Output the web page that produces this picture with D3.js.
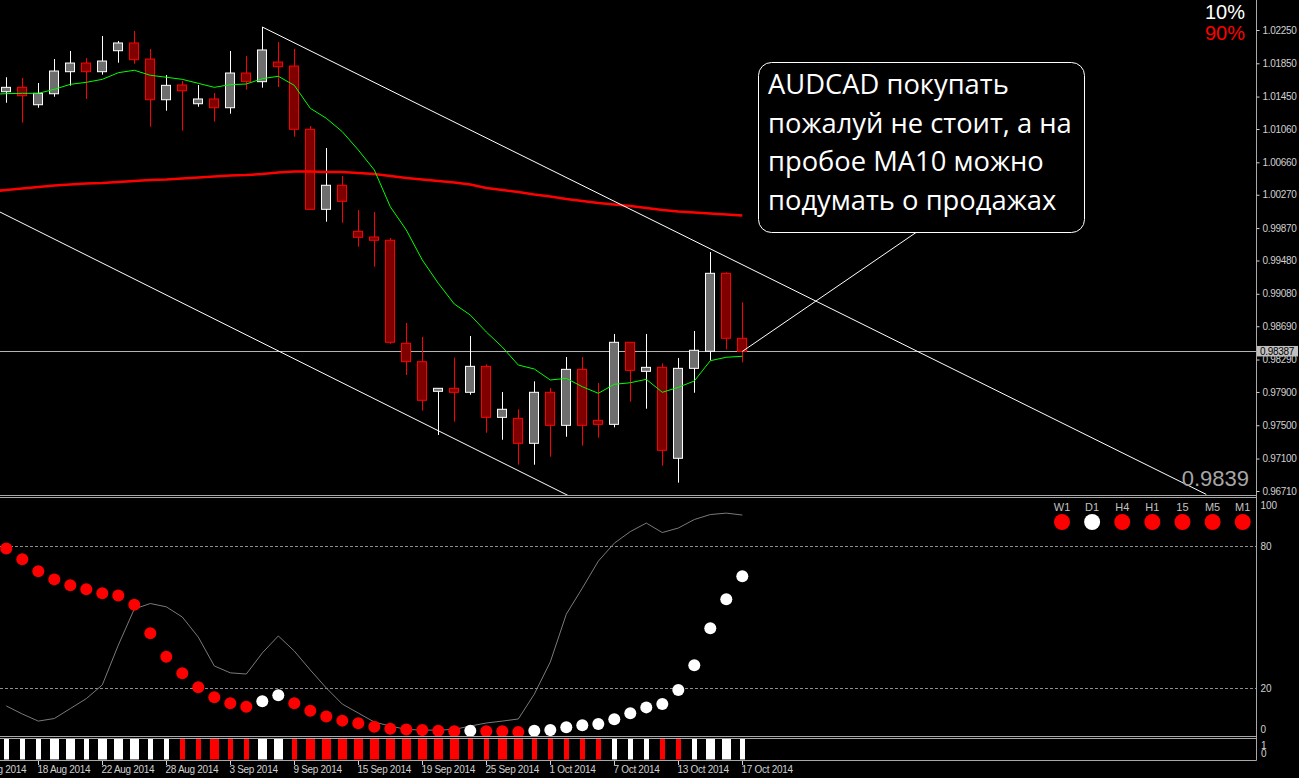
<!DOCTYPE html>
<html><head><meta charset="utf-8">
<script src="https://cdn.jsdelivr.net/npm/d3@7"></script>
<style>
html,body{margin:0;padding:0;background:#000;overflow:hidden;}
svg{display:block;}
text{font-family:"Liberation Sans",Arial,sans-serif;}
</style></head><body>
<svg id="chart" width="1299" height="778"></svg>
<script>
// ---------------- DATA ----------------
const symbol = "AUDCAD";
const opens  = [1.01508,1.01561,1.01352,1.01484,1.01749,1.01853,1.01749,1.02001,1.02094,1.01901,1.01412,1.01589,1.01364,1.01421,1.01316,1.01733,1.01629,1.01865,1.01817,1.01057,1.00095,1.00384,0.99831,0.99762,0.99723,0.98485,0.98264,0.97908,0.97944,0.97896,0.98208,0.97595,0.97583,0.97283,0.97896,0.97499,0.98172,0.97559,0.97511,0.98497,0.98148,0.98196,0.97103,0.98184,0.98389,0.99326,0.98545];
const highs  = [1.01682,1.01673,1.01613,1.01901,1.01998,1.01913,1.02178,1.02118,1.02238,1.02022,1.01709,1.01637,1.01589,1.01493,1.01998,1.01938,1.02286,1.02106,1.02022,1.01096,1.00832,1.00495,1.00087,1.00063,0.99750,0.98729,0.98561,0.97944,0.98312,0.98573,0.98232,0.97899,0.97692,0.98028,0.97948,0.98320,0.98320,0.98008,0.98597,0.98497,0.98597,0.98244,0.98308,0.98633,0.99582,0.99338,0.98978];
const lows   = [1.01376,1.01136,1.01316,1.01448,1.01581,1.01421,1.01713,1.01857,1.01845,1.01088,1.01280,1.01040,1.01328,1.01148,1.01244,1.01533,1.01557,1.01565,1.00968,1.00087,0.99946,0.99934,0.99646,0.99405,0.98480,0.98104,0.97675,0.97383,0.97543,0.97867,0.97410,0.97326,0.97026,0.97026,0.97122,0.97362,0.97254,0.97350,0.97475,0.97783,0.97699,0.97014,0.96810,0.97891,0.98281,0.98413,0.98256];
const closes = [1.01561,1.01460,1.01489,1.01757,1.01853,1.01749,1.01877,1.02094,1.01893,1.01412,1.01585,1.01520,1.01421,1.01316,1.01733,1.01629,1.02010,1.01809,1.01057,1.00095,1.00384,1.00191,0.99759,0.99723,0.98497,0.98264,0.97800,0.97944,0.97896,0.98208,0.97595,0.97692,0.97283,0.97896,0.97499,0.98172,0.97499,0.97511,0.98497,0.98160,0.98196,0.97199,0.98184,0.98401,0.99326,0.98545,0.98387];
// MA10 (green) and long MA (red); first value belongs to the bar just left of the view
const maFast = [1.01476,1.01485,1.01489,1.01489,1.01537,1.01597,1.01621,1.01657,1.01737,1.01766,1.01706,1.01682,1.01657,1.01609,1.01561,1.01593,1.01601,1.01665,1.01694,1.01585,1.01309,1.01189,1.01028,1.00808,1.00568,1.00126,0.99846,0.99486,0.99206,0.98957,0.98825,0.98621,0.98440,0.98224,0.98176,0.98044,0.98064,0.97963,0.97884,0.97992,0.98011,0.98052,0.97896,0.97956,0.98032,0.98276,0.98317,0.98329];
const maSlow = [1.00309,1.00327,1.00345,1.00363,1.00381,1.00393,1.00405,1.00411,1.00423,1.00435,1.00447,1.00453,1.00465,1.00477,1.00489,1.00501,1.00507,1.00519,1.00537,1.00549,1.00549,1.00543,1.00543,1.00531,1.00519,1.00495,1.00471,1.00453,1.00435,1.00417,1.00393,1.00351,1.00327,1.00303,1.00273,1.00249,1.00219,1.00195,1.00171,1.00153,1.00135,1.00111,1.00087,1.00069,1.00057,1.00045,1.00033,1.00021];
const maFirstBar = -1;
const lastPrice = 0.98387;
const priceTicks = [1.02250,1.01850,1.01450,1.01060,1.00660,1.00270,0.99870,0.99480,0.99080,0.98690,0.98290,0.97900,0.97500,0.97100,0.96710];
// trend lines: [bar index, price] anchors
const trendUpper = [[16,1.02286],[75,0.96669]];
const trendLower = [[-0.4,1.00063],[40,0.96187]];
const pointerLine = [[46,0.98387],[56.9,0.99822]];
// oscillator
const oscDots  = [79.0,74.4,69.3,65.9,63.4,61.7,60.0,59.1,55.2,43.1,33.2,26.2,20.3,16.1,13.5,12.1,14.4,16.9,13.5,10.4,7.9,6.2,5.1,3.6,2.8,2.5,2.2,1.9,1.7,1.9,1.7,1.7,1.4,1.9,2.2,3.4,4.2,4.8,6.8,9.3,11.8,13.2,19.1,29.6,45.2,57.5,67.2];
const oscDotDir = [-1,-1,-1,-1,-1,-1,-1,-1,-1,-1,-1,-1,-1,-1,-1,-1,1,1,-1,-1,-1,-1,-1,-1,-1,-1,-1,-1,-1,1,-1,-1,-1,1,1,1,1,1,1,1,1,1,1,1,1,1,1];
const oscLine  = [12.4,9.0,6.0,7.1,11.3,15.5,21.3,38.1,53.4,55.7,54.3,50.0,41.5,29.3,26.4,25.9,34.8,42.0,35.6,27.6,20.0,13.2,9.4,5.6,3.9,2.5,2.2,2.2,2.5,3.9,5.2,6.0,6.9,17.4,31.0,51.2,62.2,73.6,81.2,86.1,89.7,85.7,87.6,91.2,93.3,93.9,93.1];
const oscLevels = [80,20];
const oscTicks = [100,80,20,0];
// multi-timeframe signals
const tfLabels = ["W1","D1","H4","H1","15","M5","M1"];
const tfDir    = [-1,1,-1,-1,-1,-1,-1];
// bottom histogram: direction and strength
const histDir      = [1,1,1,1,1,1,1,1,1,1,1,-1,-1,-1,-1,-1,1,1,-1,-1,-1,-1,-1,-1,-1,-1,-1,-1,-1,-1,-1,-1,-1,-1,-1,-1,-1,-1,1,1,1,-1,-1,1,1,1,1];
const histStrength = [0,0,0,1,1,0,1,1,1,0,0,0,0,1,0,0,1,1,0,1,1,1,1,1,1,1,1,1,1,0,0,1,1,0,0,0,0,0,0,0,0,0,0,0,1,1,0];
// x axis
const xTickBars   = [-2,2,6,10,14,18,22,26,30,34,38,42,46];
const xTickLabels = ["14 Aug 2014","18 Aug 2014","22 Aug 2014","28 Aug 2014","3 Sep 2014","9 Sep 2014","15 Sep 2014","19 Sep 2014","25 Sep 2014","1 Oct 2014","7 Oct 2014","13 Oct 2014","17 Oct 2014"];
const noteLines = ["AUDCAD покупать","пожалуй не стоит, а на","пробое MA10 можно","подумать о продажах"];
const pctTop = "10%", pctBottom = "90%";
const lineLabel = "0.9839";

// ---------------- LAYOUT ----------------
const W = 1299, H = 778, R = 1256;
const svg = d3.select("#chart");
svg.append("rect").attr("width",W).attr("height",H).attr("fill","#000");
const defs = svg.append("defs");
defs.append("clipPath").attr("id","cTop").append("rect").attr("x",0).attr("y",0).attr("width",R).attr("height",495);
defs.append("clipPath").attr("id","cMid").append("rect").attr("x",0).attr("y",498).attr("width",R).attr("height",238);

const x = d3.scaleLinear().domain([0,46]).range([6.3,742.3]);
const yP = d3.scaleLinear().domain([0.96710,1.02250]).range([491,30]);
const yO = d3.scaleLinear().domain([0,100]).range([735.3,498.7]);
const n = closes.length;
const idx = d3.range(n);

// ---------------- TOP PANEL ----------------
const topG = svg.append("g").attr("clip-path","url(#cTop)");
topG.append("line").attr("x1",0).attr("x2",R).attr("y1",Math.round(yP(lastPrice))+0.5).attr("y2",Math.round(yP(lastPrice))+0.5)
  .attr("stroke","#b4b4b4").attr("stroke-width",1);

const candles = topG.append("g");
idx.forEach(i=>{
  const bull = closes[i] >= opens[i];
  const cx = Math.round(x(i));
  candles.append("line").attr("x1",cx+0.5).attr("x2",cx+0.5)
    .attr("y1",yP(highs[i])).attr("y2",yP(lows[i]))
    .attr("stroke", bull ? "#ffffff" : "#ff0000").attr("stroke-width",1);
  const yt = yP(Math.max(opens[i],closes[i])), yb = yP(Math.min(opens[i],closes[i]));
  candles.append("rect").attr("x",cx-4.5).attr("width",9)
    .attr("y",yt).attr("height",Math.max(1,yb-yt))
    .attr("fill", bull ? "#6e6e6e" : "#800000")
    .attr("stroke", bull ? "#ffffff" : "#ff0000").attr("stroke-width",1);
});

const maLine = d3.line().x((d,i)=>x(i+maFirstBar)).y(d=>yP(d));
topG.append("path").attr("d",maLine(maSlow)).attr("fill","none").attr("stroke","#ff0000").attr("stroke-width",2.6);
topG.append("path").attr("d",maLine(maFast)).attr("fill","none").attr("stroke","#00ff00").attr("stroke-width",1);

const anchorLine = d3.line().x(d=>x(d[0])).y(d=>yP(d[1]));
[trendUpper,trendLower].forEach(t=>{
  topG.append("path").attr("d",anchorLine(t)).attr("fill","none").attr("stroke","#ffffff").attr("stroke-width",1);
});
topG.append("path").attr("d",anchorLine(pointerLine)).attr("fill","none").attr("stroke","#ffffff").attr("stroke-width",1);

// callout box
const box = topG.append("g");
box.append("rect").attr("x",758.5).attr("y",62.5).attr("width",326).attr("height",170).attr("rx",13).attr("ry",13)
  .attr("fill","#000").attr("stroke","#ffffff").attr("stroke-width",1);
const noteText = box.append("g").attr("fill","#ffffff");
const noteBase = [94,132.5,171,209.5];
noteLines.forEach((t,i)=>{
  noteText.append("text").attr("x",768).attr("y",noteBase[i]).attr("font-size",24)
    .style("font-family","'Open Sans','Noto Sans',sans-serif").text(t);
});
let maxW = 0;
noteText.selectAll("text").each(function(){maxW = Math.max(maxW,this.getComputedTextLength());});
const fs = 24*304/maxW;
noteText.selectAll("text").attr("font-size",fs);

svg.append("text").attr("x",1249).attr("y",486).attr("text-anchor","end").attr("font-size",22)
  .attr("fill","#a6a6a6").text(lineLabel);
svg.append("text").attr("x",1245).attr("y",19).attr("text-anchor","end").attr("font-size",20).attr("fill","#ffffff").text(pctTop);
svg.append("text").attr("x",1245).attr("y",40).attr("text-anchor","end").attr("font-size",20).attr("fill","#ff0000").text(pctBottom);

// ---------------- MIDDLE PANEL ----------------
const mid = svg.append("g").attr("clip-path","url(#cMid)");
oscLevels.forEach(l=>{
  mid.append("line").attr("x1",0).attr("x2",R).attr("y1",Math.round(yO(l))+0.5).attr("y2",Math.round(yO(l))+0.5)
    .attr("stroke","#8c8c8c").attr("stroke-width",1).attr("stroke-dasharray","3,2");
});
mid.append("path").attr("d",d3.line().x((d,i)=>x(i)).y(d=>yO(d))(oscLine))
  .attr("fill","none").attr("stroke","#7a7a7a").attr("stroke-width",1);
mid.selectAll("circle.dot").data(oscDots).join("circle").attr("class","dot")
  .attr("cx",(d,i)=>x(i)).attr("cy",d=>yO(d)).attr("r",6)
  .attr("fill",(d,i)=>oscDotDir[i]>0?"#ffffff":"#ff0000");

const tfX = d3.scalePoint().domain(tfLabels).range([1062,1242.7]);
tfLabels.forEach((t,i)=>{
  svg.append("text").attr("x",tfX(t)).attr("y",511).attr("text-anchor","middle").attr("font-size",11)
    .attr("fill","#c0c0c0").text(t);
  svg.append("circle").attr("cx",tfX(t)).attr("cy",522).attr("r",8)
    .attr("fill",tfDir[i]>0?"#ffffff":"#ff0000");
});

// ---------------- BOTTOM HISTOGRAM ----------------
const bot = svg.append("g");
idx.forEach(i=>{
  const cx = Math.round(x(i));
  const w = histStrength[i] ? 9 : 5;
  bot.append("rect").attr("x",cx - (histStrength[i]?4:2)).attr("y",739).attr("width",w).attr("height",20.5)
    .attr("fill",histDir[i]>0?"#ffffff":"#ff0000");
});

// ---------------- FRAMES ----------------
const frame = "#a8a8a8";
[495.5,497.5,736.5,738.5,760.5].forEach(yy=>{
  svg.append("line").attr("x1",0).attr("x2",R+0.5).attr("y1",yy).attr("y2",yy).attr("stroke",frame).attr("stroke-width",1);
});
svg.append("line").attr("x1",R+0.5).attr("x2",R+0.5).attr("y1",0).attr("y2",760.5).attr("stroke",frame).attr("stroke-width",1);

// ---------------- AXES ----------------
const axisColor = "#d0d0d0";
const priceAxis = svg.append("g").attr("transform",`translate(${R+0.5},0)`)
  .call(d3.axisRight(yP).tickValues(priceTicks).tickFormat(d3.format(".5f")).tickSize(3).tickPadding(3));
priceAxis.select(".domain").remove();
priceAxis.selectAll("line").attr("stroke",axisColor);
priceAxis.selectAll("text").attr("fill",axisColor).attr("font-size",10).attr("letter-spacing","-0.3px")
  .attr("font-family","'Liberation Sans',Arial,sans-serif");

const lp = yP(lastPrice);
svg.append("rect").attr("x",R+1).attr("y",lp-5.5).attr("width",41).attr("height",10.5).attr("fill","#c0c0c0");
svg.append("text").attr("x",R+4).attr("y",lp+3.5).attr("font-size",10).attr("letter-spacing","-0.3px").attr("fill","#000").text(d3.format(".5f")(lastPrice));

const oscAxis = svg.append("g").attr("transform",`translate(${R+0.5},0)`)
  .call(d3.axisRight(yO).tickValues(oscTicks).tickSize(0).tickPadding(4));
oscAxis.select(".domain").remove();
oscAxis.selectAll("text").attr("fill",axisColor).attr("font-size",10).attr("font-family","'Liberation Sans',Arial,sans-serif")
  .attr("dy",d=> d===100 ? "0.95em" : d===0 ? "-0.3em" : "0.32em");

const histAxisScale = d3.scaleLinear().domain([0,1]).range([753.5,745]);
[1,0].forEach(v=>{
  svg.append("text").attr("x",R+5).attr("y",histAxisScale(v)+3.5).attr("font-size",10).attr("fill",axisColor).text(v);
});

const xAxis = svg.append("g");
xTickBars.forEach((b,i)=>{
  const tx = Math.round(x(b))+0.5;
  xAxis.append("line").attr("x1",tx).attr("x2",tx).attr("y1",761).attr("y2",765).attr("stroke",axisColor);
  xAxis.append("text").attr("x",tx-1).attr("y",773).attr("font-size",10).attr("letter-spacing","-0.3px")
    .attr("fill",axisColor).text(xTickLabels[i]);
});
</script>
</body></html>
